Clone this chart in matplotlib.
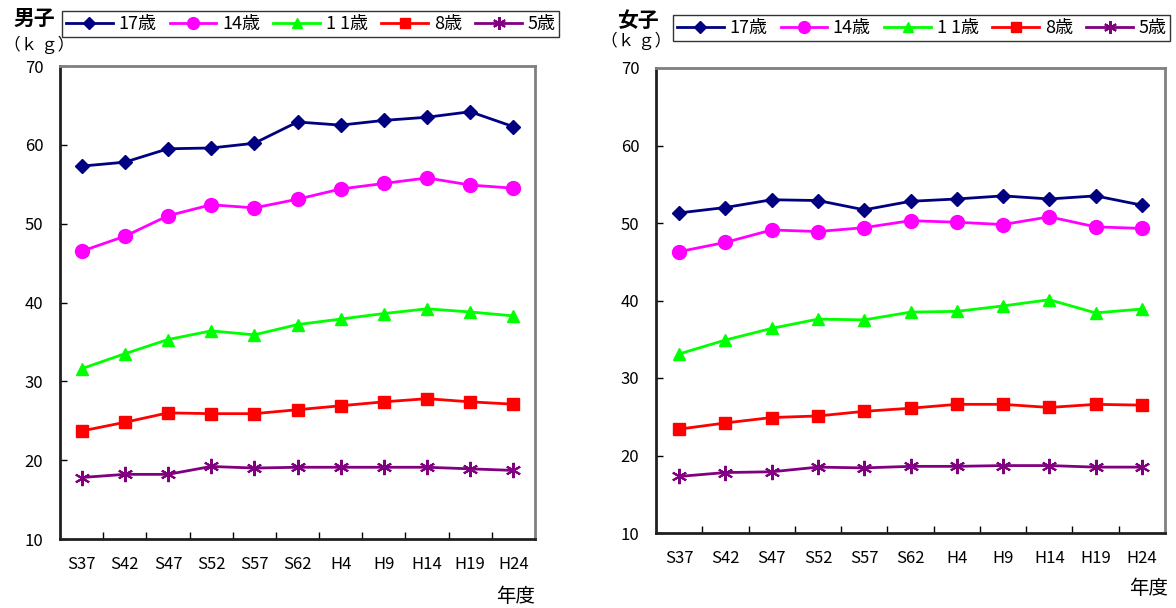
import numpy as np
import matplotlib.pyplot as plt

plt.rcParams['font.family'] = ['Noto Sans CJK JP', 'DejaVu Sans']

years = ['S37', 'S42', 'S47', 'S52', 'S57', 'S62', 'H4', 'H9', 'H14', 'H19', 'H24']
ages = ['17歳', '14歳', '11歳', '8歳', '5歳']
legend_labels = ['17歳', '14歳', '1 1歳', '8歳', '5歳']

boys_17 = [57.3, 57.8, 59.5, 59.6, 60.2, 62.9, 62.5, 63.1, 63.5, 64.2, 62.3]
boys_14 = [46.5, 48.4, 51.0, 52.4, 52.0, 53.1, 54.4, 55.1, 55.8, 54.9, 54.5]
boys_11 = [31.6, 33.5, 35.3, 36.4, 35.9, 37.2, 37.9, 38.6, 39.2, 38.8, 38.3]
boys_8 = [23.7, 24.8, 26.0, 25.9, 25.9, 26.4, 26.9, 27.4, 27.8, 27.4, 27.1]
boys_5 = [17.8, 18.2, 18.2, 19.2, 19.0, 19.1, 19.1, 19.1, 19.1, 18.9, 18.7]

girls_17 = [51.3, 52.0, 53.0, 52.9, 51.7, 52.8, 53.1, 53.5, 53.1, 53.5, 52.3]
girls_14 = [46.3, 47.5, 49.1, 48.9, 49.4, 50.3, 50.1, 49.8, 50.8, 49.5, 49.3]
girls_11 = [33.1, 34.9, 36.4, 37.6, 37.5, 38.5, 38.6, 39.3, 40.1, 38.4, 38.9]
girls_8 = [23.4, 24.2, 24.9, 25.1, 25.7, 26.1, 26.6, 26.6, 26.2, 26.6, 26.5]
girls_5 = [17.3, 17.8, 17.9, 18.5, 18.4, 18.6, 18.6, 18.7, 18.7, 18.5, 18.5]

colors = ['#000080', '#FF00FF', '#00FF00', '#FF0000', '#800080']
markers = ['D', 'o', '^', 's', (6, 2, 0)]
msizes = [7, 10, 9, 8, 11]


def draw(ax, series, title, title_xy, unit_xy, nendo_xy, legend_anchor):
    x = np.arange(len(years))
    lines = []
    for vals, c, m, ms in zip(series, colors, markers, msizes):
        ln, = ax.plot(x, vals, color=c, marker=m, markersize=ms, lw=2,
                      markeredgecolor=c, markeredgewidth=1.5 if m == (6, 2, 0) else 1)
        lines.append(ln)
    ax.set_xlim(-0.5, len(years) - 0.5)
    ax.set_ylim(10, 70)
    ax.set_yticks(range(10, 71, 10))
    ax.set_xticks(np.arange(0.5, len(years) - 1, 1.0))
    ax.set_xticks(x, minor=True)
    ax.set_xticklabels([])
    ax.set_xticklabels(years, minor=True, fontsize=12)
    ax.tick_params(axis='x', which='major', direction='in', length=5, width=1)
    ax.tick_params(axis='x', which='minor', length=0, pad=12)
    ax.tick_params(axis='y', direction='in', length=5, width=1, labelsize=12, pad=12)
    for s in ['top', 'right']:
        ax.spines[s].set_color('#808080')
        ax.spines[s].set_linewidth(2)
    for s in ['left', 'bottom']:
        ax.spines[s].set_color('#202020')
        ax.spines[s].set_linewidth(2)
    fig.text(title_xy[0], title_xy[1], title, fontsize=15, fontweight='bold', ha='left', va='center')
    fig.text(unit_xy[0], unit_xy[1], '（ｋ ｇ）', fontsize=12, ha='left', va='center')
    fig.text(nendo_xy[0], nendo_xy[1], '年度', fontsize=14, ha='left', va='center')
    leg = fig.legend(lines, legend_labels, ncol=5, loc='center left', bbox_to_anchor=legend_anchor,
                     fontsize=13, frameon=True, fancybox=False, edgecolor='black',
                     handlelength=2.6, handletextpad=0.3, columnspacing=0.75,
                     borderpad=0.2, borderaxespad=0)
    leg.get_frame().set_linewidth(1)
    for h in leg.legend_handles:
        h.set_markersize(h.get_markersize() * 0.85)


fig = plt.figure(figsize=(11.76, 6.08), dpi=100)
W, H = 1176, 608
ax1 = fig.add_axes([60 / W, 1 - 539 / H, 475 / W, 473 / H])
ax2 = fig.add_axes([656 / W, 1 - 533 / H, 509 / W, 465 / H])

draw(ax1, [boys_17, boys_14, boys_11, boys_8, boys_5], '男子',
     (13 / W, 1 - 18 / H), (4 / W, 1 - 45 / H), (496 / W, 1 - 596 / H), (62 / W, 1 - 24 / H))
draw(ax2, [girls_17, girls_14, girls_11, girls_8, girls_5], '女子',
     (617 / W, 1 - 20 / H), (601 / W, 1 - 41 / H), (1129 / W, 1 - 589 / H), (673 / W, 1 - 28 / H))

fig.savefig('out.png', dpi=100)
